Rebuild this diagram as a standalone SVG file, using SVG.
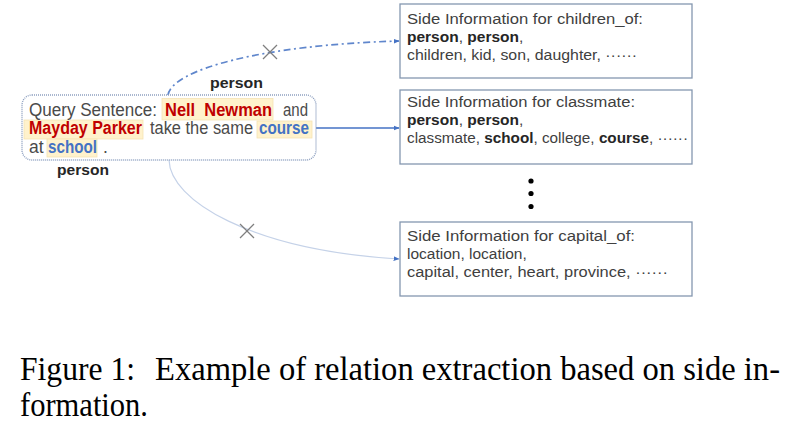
<svg xmlns="http://www.w3.org/2000/svg" width="808" height="424" viewBox="0 0 808 424">
<style>
.q{font-family:"Liberation Sans",Arial,sans-serif;font-size:17.5px;fill:#4a4a4a}
.s{font-family:"Liberation Sans",Arial,sans-serif;font-size:15.5px;fill:#404040}
.b{font-weight:bold;fill:#262626}
.red{font-weight:bold;fill:#c00000}
.blu{font-weight:bold;fill:#4472c4}
.lab{font-family:"Liberation Sans",Arial,sans-serif;font-size:15.5px;font-weight:bold;fill:#262626}
.hl{fill:#fff2cc;stroke:#f5e3b5;stroke-width:0.8}
.box{fill:#fff;stroke:#8497b0;stroke-width:1.3}
.cross{stroke:#7f7f7f;stroke-width:1.3}
.cap{font-family:"Liberation Serif","Times New Roman",serif;font-size:33px;fill:#000}
</style>
<defs>
<marker id="ah" viewBox="0 0 10 10" refX="9" refY="5" markerWidth="6" markerHeight="6" orient="auto" markerUnits="userSpaceOnUse">
<path d="M0,1 L10,5 L0,9 z" fill="#4472c4"/>
</marker>
</defs>
<g id="connectors">
<path d="M168,95 C172,70 260,45 399,41" fill="none" stroke="#5f86cc" stroke-width="1.7" stroke-dasharray="7,3.5,2,3.5" marker-end="url(#ah)"/>
<path d="M316,128 L399,128" fill="none" stroke="#4472c4" stroke-width="1.3" marker-end="url(#ah)"/>
<path d="M169,160 C170,200 250,250 399,259" fill="none" stroke="#c5d2e8" stroke-width="1.2" marker-end="url(#ah)"/>
<g class="cross">
<line x1="263" y1="45" x2="277" y2="59"/><line x1="277" y1="45" x2="263" y2="59"/>
<line x1="240" y1="224" x2="254" y2="238"/><line x1="254" y1="224" x2="240" y2="238"/>
</g>
</g>
<g id="query">
<rect x="22" y="95" width="294" height="65" rx="10" fill="#fff" stroke="#8ea0c0" stroke-width="1.4" stroke-dasharray="1,1"/>
<rect class="hl" x="162" y="98.5" width="111" height="21.5"/>
<rect class="hl" x="24" y="120" width="119" height="19"/>
<rect class="hl" x="257" y="121" width="55" height="17"/>
<rect class="hl" x="47" y="139" width="50" height="18"/>
<text class="q" x="29" y="115.5" textLength="128" lengthAdjust="spacingAndGlyphs">Query Sentence:</text>
<text class="q red" x="165" y="115.5" textLength="107" lengthAdjust="spacingAndGlyphs" xml:space="preserve">Nell  Newman</text>
<text class="q" x="283" y="115.5" textLength="25" lengthAdjust="spacingAndGlyphs">and</text>
<text class="q red" x="29" y="134" textLength="113" lengthAdjust="spacingAndGlyphs">Mayday Parker</text>
<text class="q" x="150" y="134" textLength="103" lengthAdjust="spacingAndGlyphs">take the same</text>
<text class="q blu" x="259" y="134" textLength="50" lengthAdjust="spacingAndGlyphs">course</text>
<text class="q" x="29" y="152.5">at</text>
<text class="q blu" x="48" y="152.5" textLength="49" lengthAdjust="spacingAndGlyphs">school</text>
<text class="q" x="103" y="152.5">.</text>
</g>
<g id="label-person-top"><text class="lab" x="210" y="88" textLength="53" lengthAdjust="spacingAndGlyphs">person</text></g>
<g id="label-person-bottom"><text class="lab" x="57" y="175" textLength="52" lengthAdjust="spacingAndGlyphs">person</text></g>
<g id="side-children">
<rect class="box" x="400" y="4" width="292" height="74"/>
<text class="s" x="407" y="24" textLength="236" lengthAdjust="spacingAndGlyphs">Side Information for children_of:</text>
<text class="s" x="407" y="42"><tspan class="b">person</tspan>, <tspan class="b">person</tspan>,</text>
<text class="s" x="407" y="60" textLength="230" lengthAdjust="spacingAndGlyphs">children, kid, son, daughter, ······</text>
</g>
<g id="side-classmate">
<rect class="box" x="400" y="90" width="292" height="74"/>
<text class="s" x="407" y="107" textLength="228" lengthAdjust="spacingAndGlyphs">Side Information for classmate:</text>
<text class="s" x="407" y="125"><tspan class="b">person</tspan>, <tspan class="b">person</tspan>,</text>
<text class="s" x="407" y="143" textLength="281" lengthAdjust="spacingAndGlyphs">classmate, <tspan class="b">school</tspan>, college, <tspan class="b">course</tspan>, ······</text>
</g>
<g id="ellipsis">
<circle cx="531" cy="181" r="2.6" fill="#000"/>
<circle cx="531" cy="193.5" r="2.6" fill="#000"/>
<circle cx="531" cy="206.5" r="2.6" fill="#000"/>
</g>
<g id="side-capital">
<rect class="box" x="400" y="222" width="292" height="74"/>
<text class="s" x="407" y="241" textLength="228" lengthAdjust="spacingAndGlyphs">Side Information for capital_of:</text>
<text class="s" x="407" y="259">location, location,</text>
<text class="s" x="407" y="277" textLength="261" lengthAdjust="spacingAndGlyphs">capital, center, heart, province, ······</text>
</g>
<g id="caption">
<text class="cap" x="20" y="380" textLength="115" lengthAdjust="spacingAndGlyphs">Figure 1:</text>
<text class="cap" x="155" y="380" textLength="625" lengthAdjust="spacingAndGlyphs">Example of relation extraction based on side in-</text>
<text class="cap" x="20" y="416" textLength="128" lengthAdjust="spacingAndGlyphs">formation.</text>
</g>
</svg>
